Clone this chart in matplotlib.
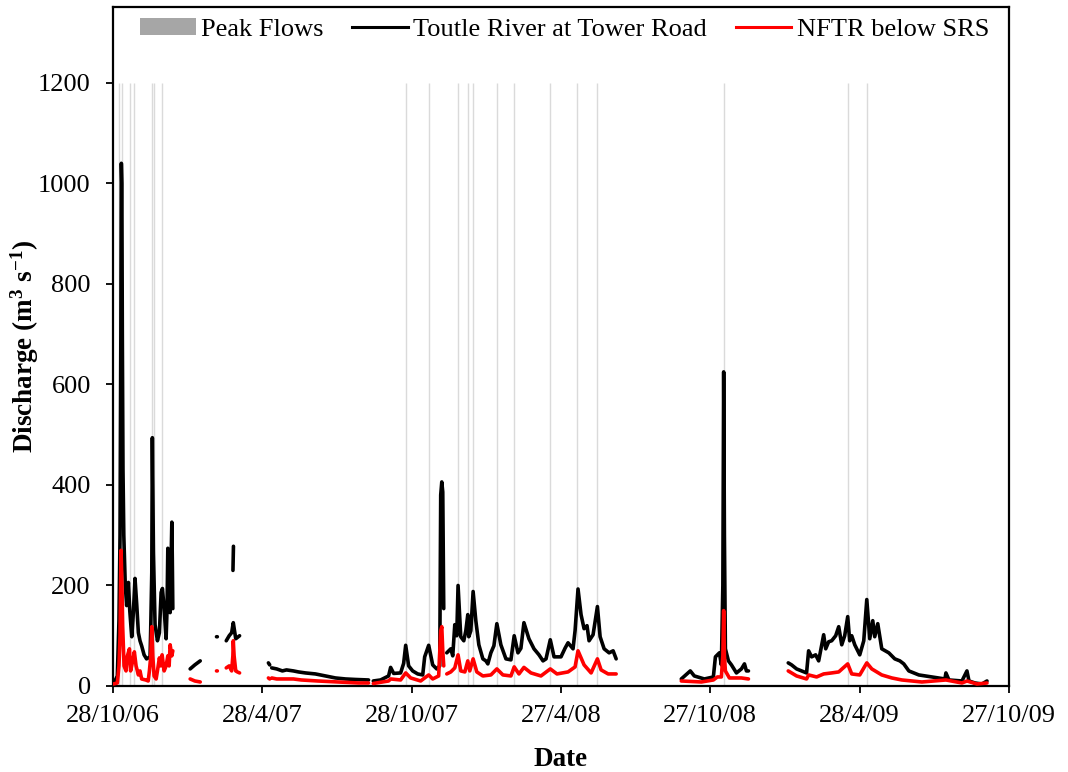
import numpy as np
import matplotlib
matplotlib.use("Agg")
import matplotlib.pyplot as plt
import matplotlib.dates as mdates
from matplotlib.patches import Patch
from matplotlib.lines import Line2D
from datetime import datetime

plt.rcParams['font.family'] = ['Liberation Serif', 'DejaVu Serif']
plt.rcParams['mathtext.fontset'] = 'custom'
plt.rcParams['mathtext.rm'] = 'Liberation Serif:bold'
plt.rcParams['mathtext.bf'] = 'Liberation Serif:bold'
plt.rcParams['mathtext.it'] = 'Liberation Serif:bold'

nan = np.nan
start_date = datetime(2006, 10, 28)

# Days since 28/10/06 and discharge (m3/s); nan marks a data gap
toutle_days = [0.4, 2.4, 5.3, 7.3, 8.6, 9.6, 10.2, 10.8, 11.4, 12.2, 13.2, 15, 16.7, 18.8, 20.5, 22.9,
               24.9, 26.9, 29, 31, 33, 35, 38, 41, 45.3, 46.1, 47.4, 48.1, 48.6, 49.4, 51.4, 54.3,
               56.7, 58.8, 60.4, 62.5, 64.9, 66, 67, 68.6, 69.8, 71.9, 72.5, 73.1, 73.5,
               94.3, 100, 106.6, 107,
               126.5, 127.5, 128,
               138.4, 142, 145, 147, 150, 154.7, 155,
               146.6, 147.2, 147.5,
               189.9, 191.5, 192.5,
               194, 200, 207, 212, 220.5, 226.6, 235.2, 247.4, 259.7, 271.9, 284.2, 296.4, 312.3, 313,
               318.1, 327, 336.8, 339.3, 343, 351.5, 355.2, 357.7, 361.3, 366.2, 372.4, 378.5, 380.9,
               385.8, 390.7, 395.6, 399.3, 400.5, 401.8, 403, 404.2, 405,
               407.9, 412.8, 415.2, 417.7, 420.1, 421.7, 425, 428.7, 431.2, 433.6, 434.8, 437.3, 440.1,
               443.4, 447.1, 452, 455.7, 458.1, 461.8, 465.5, 469.1, 474, 480.2, 486.3, 490.3, 494.9,
               498.5, 502.2, 508.3, 514.5, 520.6, 525.5, 529.2, 534.4, 539, 547.5, 552.4, 556.1, 562.2,
               564.7, 568.3, 572, 575.7, 579.3, 581.8, 586.7, 592, 595.3, 600.2, 606.3, 611.2, 614.9, 615.5,
               694.5, 705.5, 710.4, 722.7, 733.7, 736.2, 741.1, 743.5, 745.3, 746.3, 747.2, 748.4, 752.1,
               755.8, 761.9, 768, 771.7, 774.1, 776.6, 777,
               825.2, 829.3, 835.4, 847.6, 850.1, 853.8, 858.7, 862.4, 868.5, 871, 874.6, 878.3, 883.2,
               886.9, 890.6, 894.2, 897.9, 900.3, 902.8, 906.5, 912.6, 917.5, 921.2, 924.8, 928.5, 930.9,
               934.6, 939.5, 948.1, 955.4, 961.6, 966.4, 972.6, 984.8, 1000.7, 1016.7, 1017.9, 1021.6,
               1037.5, 1043.6, 1046.1, 1053.4, 1062, 1068.1]
toutle_q = [8, 10, 20, 130, 300, 700, 1040, 1000, 700, 430, 300, 200, 160, 206, 150, 98,
            146, 214, 162, 106, 90, 80, 62, 54, 58, 114, 226, 494, 400, 266, 122, 90,
            106, 186, 194, 154, 94, 150, 274, 234, 146, 326, 250, 154, nan,
            34, 42, 50, nan,
            98, 98, nan,
            90, 100, 106, 126, 94, 100, nan,
            230, 278, nan,
            46, 42, nan,
            36, 34, 30, 32, 30, 28, 26, 24, 20, 16, 14, 13, 12, nan,
            10, 12, 20, 37, 25, 26, 45, 81, 40, 30, 24, 22, 58,
            81, 42, 34, 40, 380, 406, 386, 154, nan,
            66, 74, 60, 122, 100, 200, 98, 90, 110, 142, 98, 110, 188,
            130, 82, 54, 50, 44, 66, 80, 124, 82, 54, 52, 100, 66,
            75, 126, 94, 74, 62, 50, 54, 92, 58, 58, 75, 86, 74,
            110, 193, 142, 114, 120, 90, 102, 158, 98, 74, 66, 70, 54, nan,
            14, 30, 20, 14, 18, 58, 66, 42, 200, 625, 300, 74, 50,
            42, 26, 34, 44, 30, 30, nan,
            46, 42, 34, 26, 70, 58, 62, 50, 102, 74, 88, 90, 100,
            118, 82, 100, 138, 90, 100, 82, 62, 90, 172, 94, 130, 98,
            124, 74, 66, 54, 50, 44, 30, 22, 18, 14, 26, 12,
            10, 30, 10, 6, 4, 10]

nftr_days = [0.4, 5.3, 7.3, 8.6, 9.8, 11, 11.8, 13.5, 15.9, 17.6, 20.1, 21.5, 24.1, 26.1, 28.2, 31, 33,
             35, 40, 43, 44.5, 46.2, 47.4, 48.6, 50.2, 52.7, 54.3, 56.7, 58.4, 60, 62.5, 64.9, 67, 68.6,
             69.8, 71.9, 73.1, 73.5,
             94.3, 100, 106.6, 107,
             126.5, 127.5, 128,
             138.4, 142, 145, 146.5, 147, 148, 150, 152, 154.7, 155,
             189.9, 191.5, 192.5,
             194, 200, 207, 212, 220.5, 230, 250, 275, 300, 312.3, 313,
             318.1, 336.8, 339.3, 351.5, 357.7, 363.8, 376, 380.9, 385.8, 390.7, 398, 400.5, 401.8, 403,
             404.2, 405,
             407.9, 412.8, 417.7, 421.7, 425, 430, 433.6, 436, 440.1, 444.6, 452, 461.8, 469.1, 476.5,
             486.3, 490.3, 496.1, 502.2, 510.8, 523, 534.4, 542.6, 556.1, 564.7, 568.3, 575.7, 584.3,
             592, 596.5, 605.1, 614.9, 615.5,
             694.5, 719, 733.7, 738.6, 743.5, 745.3, 746.3, 747.2, 748.4, 753.3, 768, 776.6, 777,
             825.2, 835.4, 847.6, 850.1, 859.9, 868.5, 878.3, 886.9, 897.9, 902.8, 912.6, 921.2, 927.3,
             933.4, 939.5, 951.8, 964, 988.5, 1017.9, 1037.5, 1043.6, 1055.8, 1068.1]
nftr_q = [4, 6, 40, 100, 270, 200, 120, 40, 30, 60, 74, 30, 50, 68, 40, 22, 30,
          14, 12, 10, 30, 60, 118, 60, 20, 14, 30, 56, 40, 62, 30, 40, 60, 40,
          82, 60, 70, nan,
          14, 10, 8, nan,
          30, 30, nan,
          36, 40, 30, 60, 90, 60, 30, 28, 26, nan,
          16, 14, nan,
          16, 14, 14, 14, 14, 12, 10, 8, 6, 6, nan,
          5, 10, 14, 12, 26, 16, 10, 16, 22, 14, 20, 110, 118, 70,
          40, nan,
          24, 28, 36, 62, 30, 28, 50, 30, 54, 28, 20, 22, 34, 22,
          20, 38, 24, 37, 26, 20, 34, 24, 28, 38, 70, 42, 26,
          54, 32, 24, 24, nan,
          10, 8, 12, 18, 18, 60, 150, 60, 30, 16, 16, 14, nan,
          30, 20, 14, 22, 18, 24, 26, 28, 44, 24, 22, 46, 34,
          28, 22, 16, 12, 8, 12, 6, 10, 4, 6]

peak_days = [7.7, 10.7, 20.2, 25.7, 47.2, 50.6, 59.7, 357.7, 386.2, 421.7, 434, 440.1, 469.1,
             490.3, 534.4, 567.5, 592, 746.3, 898.2, 921.5]
peak_height = 1200

tick_labels = ['28/10/06', '28/4/07', '28/10/07', '27/4/08', '27/10/08', '28/4/09', '27/10/09']
tick_step_days = 182.5
axis_span_days = 1095

t0 = mdates.date2num(start_date)

fig = plt.figure(figsize=(10.68, 7.72), dpi=100)
ax = fig.add_axes([113 / 1068, 1 - 686 / 772, (1009 - 113) / 1068, (686 - 7) / 772])

ax.vlines(t0 + np.array(peak_days), 0, peak_height, color='#dadada', lw=1.0, zorder=1)
ax.plot(t0 + np.array(toutle_days), toutle_q, color='black', lw=2.6, zorder=3,
        solid_joinstyle='round', solid_capstyle='round')
ax.plot(t0 + np.array(nftr_days), nftr_q, color='#ff0000', lw=2.6, zorder=4,
        solid_joinstyle='round', solid_capstyle='round')

ax.set_xlim(t0, t0 + axis_span_days)
ax.set_ylim(0, 1351)
ax.set_yticks(np.arange(0, 1201, 200))
ax.set_xticks([t0 + k * tick_step_days for k in range(len(tick_labels))])
ax.set_xticklabels(tick_labels)

ax.tick_params(axis='both', labelsize=19, direction='out', width=1.3, colors='black')
ax.tick_params(axis='x', length=5, pad=9)
ax.tick_params(axis='y', length=5, pad=11)
for s in ax.spines.values():
    s.set_linewidth(1.6)
ax.tick_params(top=False, right=False)

ax.set_xlabel('Date', fontsize=19.5, fontweight='bold', labelpad=14)
ax.set_ylabel(r'Discharge (m$^{3}$ s$^{-1}$)', fontsize=19.5, fontweight='bold')
ax.yaxis.set_label_coords(-0.08, 0.5)

handles = [Patch(facecolor='#a6a6a6', edgecolor='none'),
           Line2D([], [], color='black', lw=2.2),
           Line2D([], [], color='#ff0000', lw=2.2)]
labels = ['Peak Flows', 'Toutle River at Tower Road', 'NFTR below SRS']
ax.legend(handles, labels, loc='upper center', bbox_to_anchor=(0.504, 0.999), ncol=3,
          frameon=False, fontsize=19, handlelength=2.1, handleheight=0.6,
          handletextpad=0.2, columnspacing=1.1, borderaxespad=0.0)

fig.savefig('out.png', dpi=100)
